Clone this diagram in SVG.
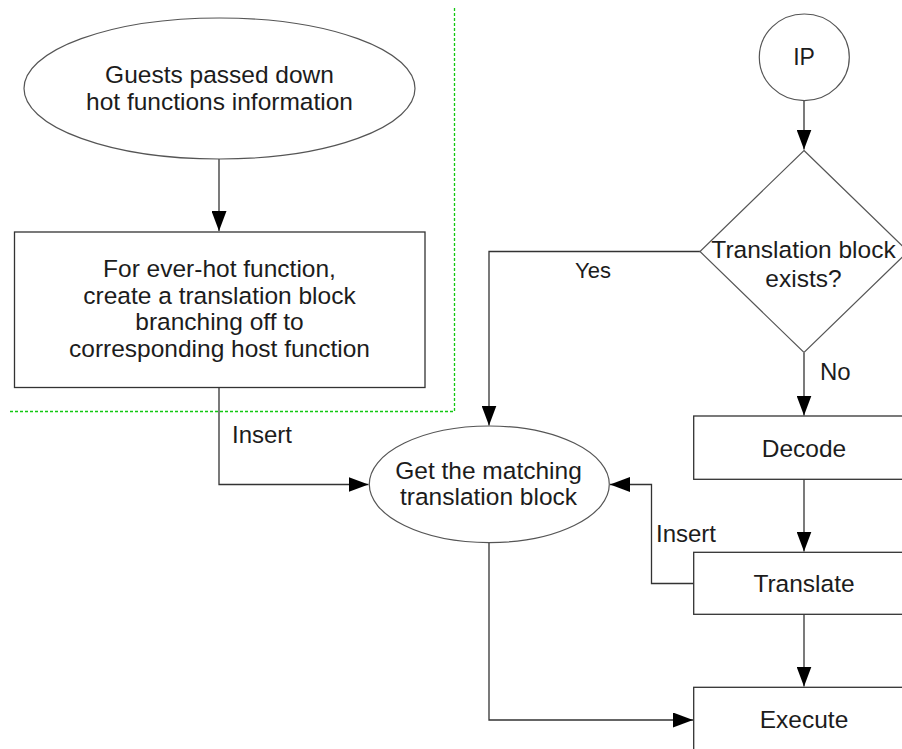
<svg xmlns="http://www.w3.org/2000/svg" width="902" height="749" viewBox="0 0 902 749">
<defs>
<style>
.shape{fill:#fff;stroke:#555;stroke-width:1.2}
.box{fill:#fff;stroke:#333;stroke-width:1.3}
.conn{fill:none;stroke:#333;stroke-width:1.3}
.t{font-family:"Liberation Sans",Arial,sans-serif;font-size:24.5px;fill:#1c1c1c;text-anchor:middle}
.l{font-family:"Liberation Sans",Arial,sans-serif;font-size:24px;fill:#1c1c1c}
.grp{fill:none;stroke:#11c811;stroke-width:1.3;stroke-dasharray:3 2}
</style>
<marker id="arr" viewBox="0 0 20 15" refX="20" refY="7.5" markerWidth="20" markerHeight="15" markerUnits="userSpaceOnUse" orient="auto">
<path d="M0,0 L20,7.5 L0,15 Z" fill="#000"/>
</marker>
</defs>
<rect width="902" height="749" fill="#fff"/>
<path class="grp" d="M454.5,8 V411.5 H8"/>
<g id="connectors">
<path class="conn" d="M219,159 V231" marker-end="url(#arr)"/>
<path class="conn" d="M219,388 V484.5 H368.5" marker-end="url(#arr)"/>
<path class="conn" d="M804,101 V149.5" marker-end="url(#arr)"/>
<path class="conn" d="M700,251.5 H489 V425.5" marker-end="url(#arr)"/>
<path class="conn" d="M804,353 V415.5" marker-end="url(#arr)"/>
<path class="conn" d="M804,479.5 V551.5" marker-end="url(#arr)"/>
<path class="conn" d="M804,614.5 V686.5" marker-end="url(#arr)"/>
<path class="conn" d="M693.5,583.5 H651.5 V484.5 H610" marker-end="url(#arr)"/>
<path class="conn" d="M489,543 V720 H693" marker-end="url(#arr)"/>
<text class="l" x="575" y="278" style="font-size:22px">Yes</text>
<text class="l" x="820" y="380">No</text>
<text class="l" x="232" y="443">Insert</text>
<text class="l" x="656" y="542">Insert</text>
</g>
<g id="guests">
<ellipse class="shape" cx="219.5" cy="88.5" rx="195.5" ry="70.5"/>
<text class="t" x="219.5" y="83">Guests passed down</text>
<text class="t" x="219.5" y="110">hot functions information</text>
</g>
<g id="everhot">
<rect class="box" x="14.5" y="232" width="410.5" height="155.5"/>
<text class="t" x="219.5" y="277">For ever-hot function,</text>
<text class="t" x="219.5" y="304">create a translation block</text>
<text class="t" x="219.5" y="330">branching off to</text>
<text class="t" x="219.5" y="357">corresponding host function</text>
</g>
<g id="ip">
<ellipse class="shape" cx="804.3" cy="57.3" rx="45" ry="43.3"/>
<text class="t" x="804" y="65" style="font-size:23px">IP</text>
</g>
<g id="decision">
<path class="shape" d="M804,150.5 L908,251.5 L804,352.5 L700,251.5 Z"/>
<text class="t" x="803.5" y="258.3">Translation block</text>
<text class="t" x="803.5" y="286.7">exists?</text>
</g>
<g id="getmatching">
<ellipse class="shape" cx="489.3" cy="484.3" rx="120" ry="58.3"/>
<text class="t" x="488.5" y="479">Get the matching</text>
<text class="t" x="488.5" y="505">translation block</text>
</g>
<g id="decode">
<rect class="box" x="693.7" y="416" width="222" height="63.3"/>
<text class="t" x="804" y="456.7">Decode</text>
</g>
<g id="translate">
<rect class="box" x="693.7" y="552.3" width="222" height="62"/>
<text class="t" x="804" y="591.7">Translate</text>
</g>
<g id="execute">
<rect class="box" x="693.7" y="687.3" width="222" height="80"/>
<text class="t" x="804" y="728.3">Execute</text>
</g>
</svg>
